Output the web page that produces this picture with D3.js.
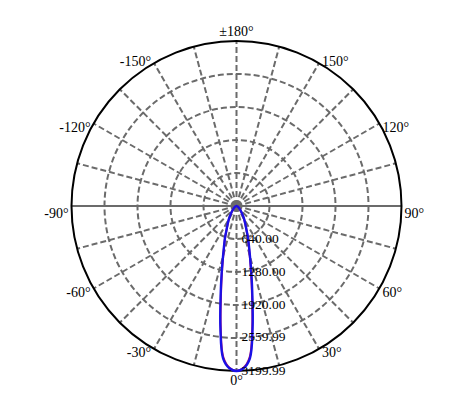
<!DOCTYPE html>
<html><head><meta charset="utf-8">
<script src="https://cdn.jsdelivr.net/npm/d3@7"></script>
<style>body{margin:0;background:#fff}svg{display:block}</style>
</head><body>
<svg id="c" width="463" height="406"></svg>
<script>
// ---- data ----
const gammaAngles = [0, 2.5, 5, 7.5, 10, 12.5, 15, 17.5, 20, 22.5, 25, 30, 35, 40, 50, 60, 70, 80, 90];
const c90Values   = [3200, 3150, 2970, 2390, 1775, 1330, 1010, 800, 650, 510, 420, 300, 200, 140, 70, 35, 15, 5, 0];
const c0Values    = [3200, 3140, 2940, 2350, 1730, 1300, 990, 785, 640, 505, 415, 295, 198, 138, 70, 35, 15, 5, 0];
const ringValues  = [640, 1280, 1920, 2559.99, 3199.99];
const ringLabels  = ["640.00", "1280.00", "1920.00", "2559.99", "3199.99"];
const spokeAngles = d3.range(-165, 195, 15);
const labelAngles = [0, 30, 60, 90, 120, 150, 180, -150, -120, -90, -60, -30];
const labelTexts  = ["0°", "30°", "60°", "90°", "120°", "150°", "±180°", "-150°", "-120°", "-90°", "-60°", "-30°"];

const cx = 236.5, cy = 206, R = 165;
const svg = d3.select("#c");
const g = svg.append("g").attr("transform", `translate(${cx},${cy})`);
const r = d3.scaleLinear().domain([0, 3199.99]).range([0, R]);
const rad = d => d * Math.PI / 180;
const px = (a, rr) => rr * Math.sin(rad(a));
const py = (a, rr) => rr * Math.cos(rad(a));
const FONT = "'Liberation Serif', 'Times New Roman', Times, serif";

// rings
g.selectAll("circle.ring").data(ringValues.slice(0, -1)).join("circle")
  .attr("r", d => r(d)).attr("fill", "none")
  .attr("stroke", "#6b6b6b").attr("stroke-width", 2).attr("stroke-dasharray", "6,3");

// spokes
g.selectAll("line.spoke").data(spokeAngles.filter(a => a !== 90 && a !== -90)).join("line")
  .attr("x1", 0).attr("y1", 0)
  .attr("x2", d => px(d, R)).attr("y2", d => py(d, R))
  .attr("stroke", "#6b6b6b").attr("stroke-width", 2).attr("stroke-dasharray", "6,3");
// horizontal axis solid
g.append("line").attr("x1", px(-90, R)).attr("y1", 0).attr("x2", px(90, R)).attr("y2", 0)
  .attr("stroke", "#6b6b6b").attr("stroke-width", 2);
g.append("circle").attr("r", 4).attr("fill", "#6b6b6b");

// outer circle
g.append("circle").attr("r", R).attr("fill", "none").attr("stroke", "#000").attr("stroke-width", 2);

// curves
function pts(vals) {
  const out = [];
  for (let i = gammaAngles.length - 1; i > 0; i--) out.push([-gammaAngles[i], vals[i]]);
  for (let i = 0; i < gammaAngles.length; i++) out.push([gammaAngles[i], vals[i]]);
  return out;
}
const line = d3.lineRadial()
  .angle(d => Math.PI - rad(d[0]))
  .radius(d => r(d[1]))
  .curve(d3.curveCatmullRomClosed);
g.append("path").attr("d", line(pts(c0Values))).attr("fill", "none")
  .attr("stroke", "#c0106a").attr("stroke-width", 2);
g.append("path").attr("d", line(pts(c90Values))).attr("fill", "none")
  .attr("stroke", "#1a10e6").attr("stroke-width", 2.4);

// ring labels
g.selectAll("text.rl").data(ringValues).join("text")
  .attr("x", 5).attr("y", d => r(d) - 1)
  .attr("dominant-baseline", "central")
  .attr("font-family", FONT)
  .attr("font-size", 13.5).attr("fill", "#000")
  .text((d, i) => ringLabels[i]);

// angle labels
g.selectAll("text.al").data(labelAngles).join("text")
  .attr("x", d => {
    const s = Math.sin(rad(d));
    const x = px(d, R);
    return Math.abs(s) < 1e-6 ? x : (s > 0 ? x + 3 : x - 3);
  })
  .attr("y", d => {
    const y = py(d, R);
    if (d === 0) return y + 14;
    if (Math.abs(d) === 180) return y - 5;
    if (Math.abs(d) === 90) return y + 12;
    if (Math.abs(d) === 150) return y + 3;
    return y + 8;
  })
  .attr("text-anchor", d => {
    const s = Math.sin(rad(d));
    return Math.abs(s) < 1e-6 ? "middle" : (s > 0 ? "start" : "end");
  })
  .attr("font-family", FONT)
  .attr("font-size", 14).attr("fill", "#000")
  .text((d, i) => labelTexts[i]);
</script>
</body></html>
